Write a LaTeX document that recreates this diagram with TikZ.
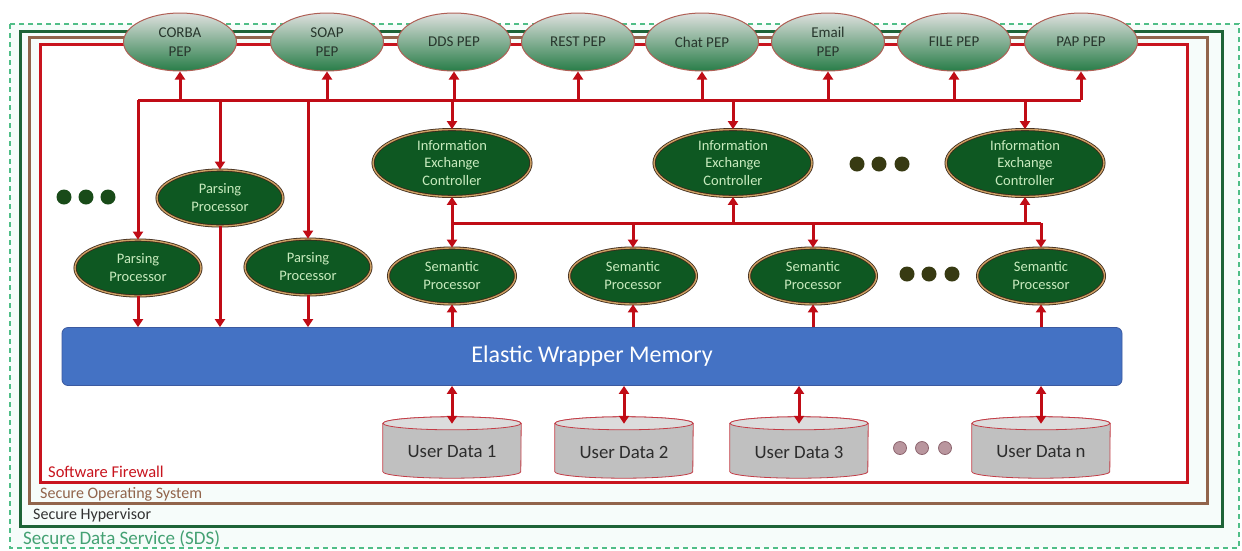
\documentclass[tikz,border=0pt]{standalone}
\usepackage{fontspec}
\setmainfont{Carlito}
\usetikzlibrary{shapes.geometric,arrows.meta}

\definecolor{fwred}{RGB}{200,20,30}
\definecolor{osbrown}{RGB}{145,100,75}
\definecolor{hvgreen}{RGB}{30,100,55}
\definecolor{sdsgreen}{RGB}{80,190,135}
\definecolor{mint}{RGB}{246,252,250}
\definecolor{linkred}{RGB}{192,12,22}
\definecolor{procgreen}{RGB}{14,88,34}
\definecolor{proctext}{RGB}{200,235,190}
\definecolor{procrim}{RGB}{205,160,100}
\definecolor{procedge}{RGB}{60,40,25}
\definecolor{pepgray}{RGB}{222,224,222}
\definecolor{pepgreen}{RGB}{40,125,72}
\definecolor{pepedge}{RGB}{175,95,85}
\definecolor{peptext}{RGB}{40,55,45}
\definecolor{ewmblue}{RGB}{68,114,196}
\definecolor{ewmedge}{RGB}{60,90,160}
\definecolor{dbgray}{RGB}{192,192,192}
\definecolor{dbtop}{RGB}{220,220,220}
\definecolor{dbedge}{RGB}{195,60,70}
\definecolor{dbtext}{RGB}{45,45,45}
\definecolor{dotgreen}{RGB}{25,75,25}
\definecolor{dotolive}{RGB}{55,58,18}
\definecolor{dotpink}{RGB}{185,150,158}
\definecolor{dotpinkedge}{RGB}{140,100,110}

% cylinder drawn around a named (invisible) box node
\newcommand\dbshape[1]{%
  \path[fill=dbgray, draw=dbedge, line width=0.8pt]
    ([yshift=-6.5pt]#1.north west) -- ([yshift=6.5pt]#1.south west)
    arc[start angle=180, end angle=360, x radius=69pt, y radius=6.5pt]
    -- ([yshift=-6.5pt]#1.north east)
    arc[start angle=0, end angle=180, x radius=69pt, y radius=6.5pt] -- cycle;
  \path[fill=dbtop, draw=dbedge, line width=0.8pt]
    ([yshift=-6.5pt]#1.north) ellipse[x radius=69pt, y radius=6.5pt];
}

\begin{document}
\begin{tikzpicture}[x=1pt, y=-1pt,
  pep/.style={ellipse, draw=pepedge, line width=1pt, top color=pepgray,
    bottom color=pepgreen, minimum width=113pt, minimum height=58pt,
    inner sep=0pt, align=center, text=peptext,
    font=\fontsize{15}{19}\selectfont},
  proc/.style={ellipse, draw=procedge, line width=0.8pt, double=procrim,
    double distance=1.4pt, fill=procgreen, inner sep=0pt, align=center,
    text=proctext, minimum width=126pt, minimum height=56pt,
    font=\fontsize{14.5}{18}\selectfont},
  iec/.style={proc, minimum width=158pt, minimum height=67pt,
    font=\fontsize{14.5}{17.5}\selectfont},
  dbbox/.style={rectangle, minimum width=138pt, minimum height=61pt,
    inner sep=0pt},
  dblabel/.style={inner sep=0pt, text=dbtext, font=\fontsize{18.8}{21}\selectfont},
  conn/.style={draw=linkred, line width=3pt},
  arr/.style={conn, -{Triangle[width=10pt,length=8pt]}},
  biarr/.style={conn, {Triangle[width=10pt,length=8pt]}-{Triangle[width=10pt,length=8pt]}},
  layer/.style={anchor=base west, inner sep=0pt}
]
\useasboundingbox (0,0) rectangle (1242,550);
\fill[white] (0,0) rectangle (1242,550);

% nested security layers
\draw[sdsgreen, line width=1.5pt, dash pattern=on 5pt off 4pt, fill=mint]
  (10,24) rectangle (1239,548);
\draw[hvgreen, line width=3pt] (20,31) rectangle (1222,526);
\draw[osbrown, line width=3pt] (29,37) rectangle (1207,503);
\draw[fwred, line width=3pt, fill=white] (40,44) rectangle (1187,482);

\node[layer, text=fwred, font=\fontsize{16.5}{18}\selectfont] (fw) at (48,477) {Software Firewall};
\node[layer, text=osbrown, font=\fontsize{16}{18}\selectfont] (os) at (40,498) {Secure Operating System};
\node[layer, text=black!80, font=\fontsize{16}{18}\selectfont] (hv) at (33,519) {Secure Hypervisor};
\node[layer, text=sdsgreen!85!black, font=\fontsize{19}{21}\selectfont] (sds) at (23,544) {Secure Data Service (SDS)};

% policy enforcement points
\node[pep] (corba) at (180,42) {CORBA\\PEP};
\node[pep] (soap)  at (327,42) {SOAP\\PEP};
\node[pep] (dds)   at (454,42) {DDS PEP};
\node[pep] (rest)  at (578,42) {REST PEP};
\node[pep] (chat)  at (702,42) {Chat PEP};
\node[pep] (email) at (828,42) {Email\\PEP};
\node[pep] (file)  at (954,42) {FILE PEP};
\node[pep] (pap)   at (1081,42) {PAP PEP};

% parsing processors
\node[proc] (ppl) at (138,268) {Parsing\\Processor};
\node[proc] (ppm) at (220,198) {Parsing\\Processor};
\node[proc] (ppr) at (308,267) {Parsing\\Processor};

% information exchange controllers
\node[iec] (iec1) at (452,163) {Information\\Exchange\\Controller};
\node[iec] (iec2) at (733,163) {Information\\Exchange\\Controller};
\node[iec] (iec3) at (1025,163) {Information\\Exchange\\Controller};

% semantic processors
\node[proc, minimum width=127pt] (sp1) at (452,276) {Semantic\\Processor};
\node[proc, minimum width=127pt] (sp2) at (633,276) {Semantic\\Processor};
\node[proc, minimum width=127pt] (sp3) at (813,276) {Semantic\\Processor};
\node[proc, minimum width=127pt] (sp4) at (1041,276) {Semantic\\Processor};

% shared memory
\node[rectangle, rounded corners=6pt, fill=ewmblue, draw=ewmedge, line width=0.8pt,
  minimum width=1060pt, minimum height=58pt, text=white,
  font=\fontsize{24}{27}\selectfont] (ewm) at (592,356.5) {Elastic Wrapper Memory};

% user data stores
\node[dbbox] (ud1) at (452,447.5) {};
\node[dbbox] (ud2) at (624,447.5) {};
\node[dbbox] (ud3) at (799,447.5) {};
\node[dbbox] (udn) at (1041,447.5) {};
\dbshape{ud1}\dbshape{ud2}\dbshape{ud3}\dbshape{udn}
\node[dblabel] (ud1t) at ([yshift=-4.5pt]ud1.center) {User Data 1};
\node[dblabel] (ud2t) at ([yshift=-4.5pt]ud2.center) {User Data 2};
\node[dblabel] (ud3t) at ([yshift=-4.5pt]ud3.center) {User Data 3};
\node[dblabel] (udnt) at ([yshift=-4.5pt]udn.center) {User Data n};

% continuation dots
\foreach \x in {64,86,108} \fill[dotgreen] (\x,197) circle[radius=7.5pt];
\foreach \x in {857,879,902} \fill[dotolive] (\x,164) circle[radius=7.5pt];
\foreach \x in {907,929,952} \fill[dotolive] (\x,274) circle[radius=7.5pt];
\foreach \x in {900,922,945} \draw[fill=dotpink, draw=dotpinkedge, line width=0.8pt] (\x,448) circle[radius=6.5pt];

% upper distribution bus
\coordinate (bus) at (0,100);
\draw[conn] (ppl.north |- bus) -- (pap.south |- bus);
\foreach \p in {corba,soap,dds,rest,chat,email,file,pap}
  \draw[arr] (\p.south |- bus) -- (\p.south);
\foreach \p in {ppl,ppm,ppr,iec1,iec2,iec3}
  \draw[arr] (\p.north |- bus) -- (\p.north);

% parsing processors into memory
\foreach \p in {ppl,ppm,ppr}
  \draw[arr] (\p.south) -- (\p.south |- ewm.north);

% controller / semantic bus
\coordinate (sbus) at (0,223);
\draw[conn] (iec1.south |- sbus) -- (sp4.north |- sbus);
\draw[biarr] (iec1.south) -- (sp1.north);
\draw[arr] (iec2.south |- sbus) -- (iec2.south);
\draw[arr] (iec3.south |- sbus) -- (iec3.south);
\draw[arr] (sp2.north |- sbus) -- (sp2.north);
\draw[arr] (sp3.north |- sbus) -- (sp3.north);
\draw[arr] (sp4.north |- sbus) -- (sp4.north);

% memory into semantic processors
\foreach \p in {sp1,sp2,sp3,sp4}
  \draw[arr] (\p.south |- ewm.north) -- (\p.south);

% memory to user data
\foreach \d in {ud1,ud2,ud3,udn}
  \draw[biarr] (\d.north |- ewm.south) -- ([yshift=-7pt]\d.north);
\end{tikzpicture}
\end{document}
